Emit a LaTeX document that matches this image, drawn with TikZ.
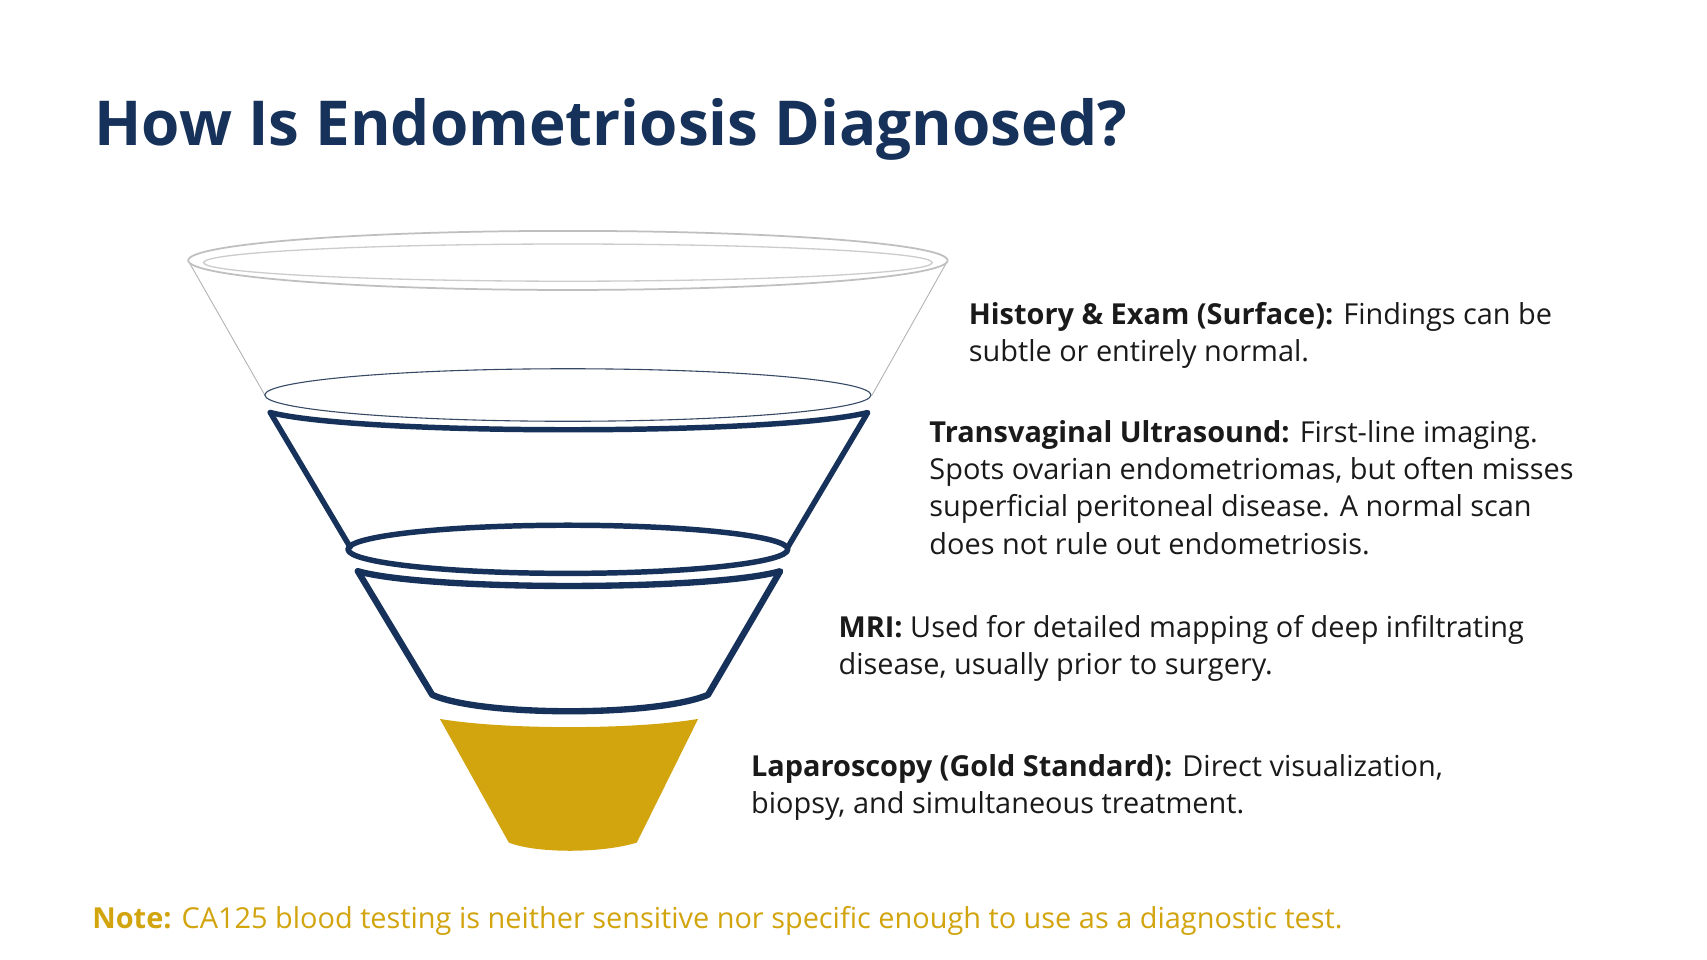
\documentclass[tikz,border=0pt]{standalone}
\usepackage{fontspec}
\setmainfont{Open Sans}
\definecolor{navy}{HTML}{17325A}
\definecolor{gold}{HTML}{D2A40E}
\definecolor{txt}{HTML}{1A1A1A}
\begin{document}
\begin{tikzpicture}[x=0.5pt,y=-0.5pt,
  body/.style={anchor=north west,inner sep=0,font=\fontsize{13.2}{17}\selectfont,text=txt,align=left},
  thick navy/.style={draw=navy,line width=2.5pt,line join=round,line cap=round}]
\useasboundingbox (0,0) rectangle (1560,877);
\fill[white] (0,0) rectangle (1560,877);
\node[anchor=west,inner sep=0,text=navy,font=\fontsize{28.3}{32}\selectfont\bfseries] (title) at (86,118) {How Is Endometriosis Diagnosed?};
% top layer
\draw[gray!60,line width=0.4pt] (173,240) -- (242,361);
\draw[gray!60,line width=0.4pt] (865,240) -- (797,361);
\draw[gray!50,line width=0.8pt] (519,238) ellipse [x radius=347,y radius=27];
\draw[gray!40,line width=0.6pt] (519,240) ellipse [x radius=333,y radius=17];
\draw[navy!70!gray,line width=0.5pt] (519,361) ellipse [x radius=277,y radius=24];
% layer 2
\draw[thick navy] (247,377) .. controls (330,398) and (708,398) .. (793,377) -- (720,500);
\draw[thick navy] (247,377) -- (320,500);
\draw[thick navy] (519,502) ellipse [x radius=201,y radius=22];
% layer 3
\draw[thick navy,line width=2.9pt] (327,522) .. controls (390,540) and (650,540) .. (713,522) -- (647,635) .. controls (600,655) and (440,655) .. (395,635) -- cycle;
% gold
\fill[gold] (402,657) .. controls (460,667) and (580,667) .. (638,657) -- (582,770) .. controls (550,780) and (490,780) .. (465,770) -- cycle;
% texts
\node[body] (t1) at (885,276) {\textbf{History \& Exam (Surface):} Findings can be\\subtle or entirely normal.};
\node[body] (t2) at (849,384) {\textbf{Transvaginal Ultrasound:} First-line imaging.\\Spots ovarian endometriomas, but often misses\\superficial peritoneal disease. A normal scan\\does not rule out endometriosis.};
\node[body] (t3) at (766,562) {\textbf{MRI:} Used for detailed mapping of deep infiltrating\\disease, usually prior to surgery.};
\node[body] (t4) at (686,689) {\textbf{Laparoscopy (Gold Standard):} Direct visualization,\\biopsy, and simultaneous treatment.};
\node[body,anchor=west,text=gold] (note) at (84,842) {\textbf{Note:} CA125 blood testing is neither sensitive nor specific enough to use as a diagnostic test.};
\end{tikzpicture}
\end{document}
